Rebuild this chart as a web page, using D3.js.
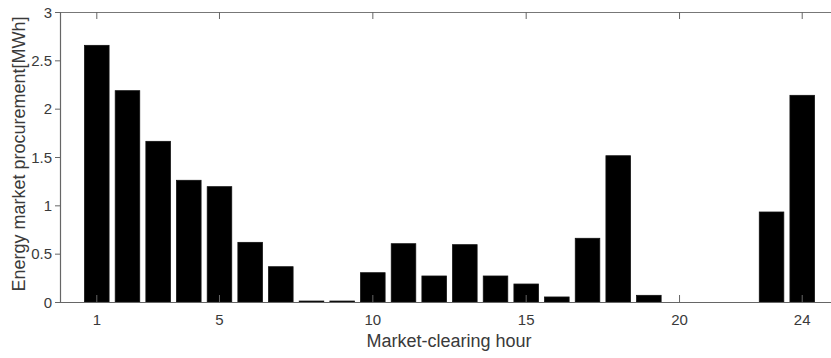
<!DOCTYPE html>
<html lang="en">
<head>
<meta charset="UTF-8">
<title>Energy market procurement</title>
<script src="https://d3js.org/d3.v7.min.js"></script>
<style>
    body { margin: 0; background: #fff; }
    svg { display: block; }
    .tick_text { font-family: "Liberation Sans", Arial, sans-serif; font-size: 15px; fill: #3a3a3a; }
    .axis_label { font-family: "Liberation Sans", Arial, sans-serif; font-size: 18px; fill: #3a3a3a; }
</style>
</head>
<body>
<svg width="831" height="358"></svg>
<script>
    // hourly procurement [MWh], hours 1..24
    const hours = d3.range(1, 25);
    const procurement = [2.655, 2.186, 1.662, 1.259, 1.193, 0.617, 0.365, 0.01, 0.01, 0.303,
                         0.603, 0.269, 0.593, 0.269, 0.186, 0.052, 0.659, 1.513, 0.069, 0,
                         0, 0, 0.931, 2.138];
    const xTicks = [1, 5, 10, 15, 20, 24];
    const yTicks = [0, 0.5, 1, 1.5, 2, 2.5, 3];
    const yTickLabels = ["0", "0.5", "1", "1.5", "2", "2.5", "3"];

    const svg = d3.select("svg");
    const pLeft = 60, pTop = 12, pBottom = 302;

    const x = d3.scaleLinear().domain([-0.2, 25.2]).range([pLeft, pLeft + 25.4 * 30.67]);
    const y = d3.scaleLinear().domain([0, 3]).range([pBottom, pTop]);
    const barW = x(0.8) - x(0);

    // bars
    svg.append("g").selectAll("rect")
        .data(hours.filter((h, i) => procurement[i] > 0))
        .enter()
        .append("rect")
        .attr("x", h => x(h) - barW / 2)
        .attr("y", h => y(procurement[h - 1]))
        .attr("width", barW)
        .attr("height", h => Math.max(1, y(0) - y(procurement[h - 1])))
        .attr("fill", "#000")
        .attr("stroke", "#111")
        .attr("stroke-width", 0.8);

    // box lines (top + bottom + left)
    svg.append("line").attr("x1", pLeft).attr("x2", 831).attr("y1", pTop + 0.5).attr("y2", pTop + 0.5)
        .attr("stroke", "#777").attr("stroke-width", 1.2);
    svg.append("line").attr("x1", pLeft).attr("x2", 831).attr("y1", pBottom + 0.5).attr("y2", pBottom + 0.5)
        .attr("stroke", "#666").attr("stroke-width", 1.2);
    svg.append("line").attr("x1", pLeft + 0.5).attr("x2", pLeft + 0.5).attr("y1", pTop).attr("y2", pBottom + 1)
        .attr("stroke", "#666").attr("stroke-width", 1.2);

    // x ticks: inward on top and bottom
    const gx = svg.append("g");
    xTicks.forEach(function (t) {
        gx.append("line").attr("x1", x(t)).attr("x2", x(t)).attr("y1", pTop).attr("y2", pTop + 7)
            .attr("stroke", "#666");
        gx.append("line").attr("x1", x(t)).attr("x2", x(t)).attr("y1", pBottom).attr("y2", pBottom - 7)
            .attr("stroke", "#666");
        gx.append("text").attr("class", "tick_text")
            .attr("x", x(t)).attr("y", 325)
            .attr("text-anchor", "middle")
            .text(t);
    });

    // y ticks: outward on the left
    const gy = svg.append("g");
    yTicks.forEach(function (t, i) {
        gy.append("line").attr("x1", pLeft - 5).attr("x2", pLeft).attr("y1", y(t) + 0.5).attr("y2", y(t) + 0.5)
            .attr("stroke", "#666");
        gy.append("text").attr("class", "tick_text")
            .attr("x", 52).attr("y", y(t) + 5.5)
            .attr("text-anchor", "end")
            .text(yTickLabels[i]);
    });

    // axis labels
    svg.append("text").attr("class", "axis_label")
        .attr("x", 449).attr("y", 347)
        .attr("text-anchor", "middle")
        .text("Market-clearing hour");

    svg.append("text").attr("class", "axis_label")
        .attr("transform", "translate(25," + ((pTop + pBottom) / 2 - 3) + ") rotate(-90)")
        .attr("text-anchor", "middle")
        .text("Energy market procurement[MWh]");
</script>
</body>
</html>
